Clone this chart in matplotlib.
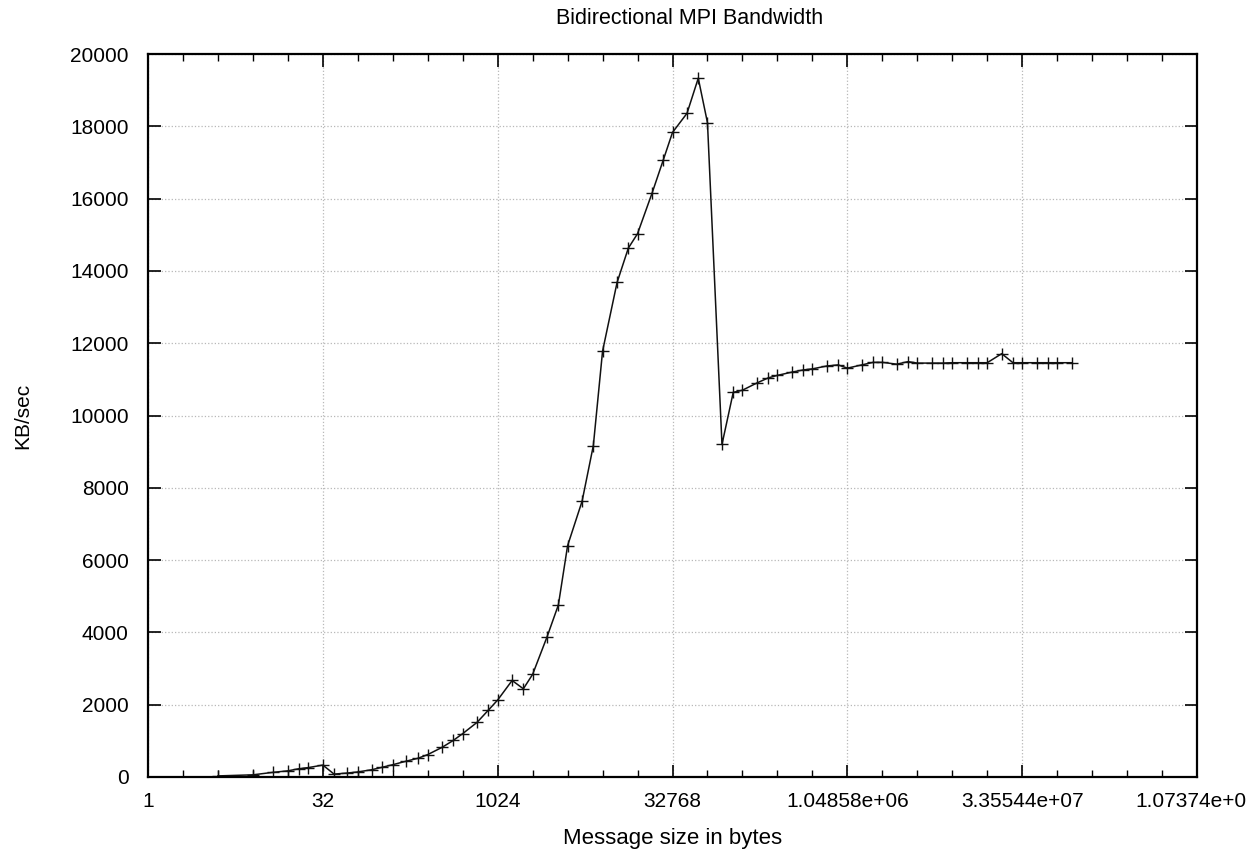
import matplotlib
matplotlib.use("Agg")
import matplotlib.pyplot as plt
from matplotlib import font_manager

# font: narrow helvetica-like if available
names = set(f.name for f in font_manager.fontManager.ttflist)
fam = ['Liberation Sans Narrow', 'Liberation Sans'] if 'Liberation Sans Narrow' in names else ['Liberation Sans']
plt.rcParams['font.family'] = fam

# message sizes (bytes) and measured bandwidth (KB/sec)
msg_size = [4, 8, 12, 16, 20, 24, 32, 40, 52, 64, 84, 104, 128, 168, 212, 256,
            340, 424, 512, 680, 852, 1024, 1364, 1704, 2048, 2728, 3412, 4096,
            5460, 6824, 8192, 10920, 13652, 16384, 21844, 27304, 32768, 43688,
            54612, 65536, 87380, 109224, 131072, 174760, 218452, 262144, 349524,
            436904, 524288, 699048, 873812, 1048576, 1398100, 1747624, 2097152,
            2796200, 3495252, 4194304, 5592404, 6990504, 8388608, 11184808,
            13981012, 16777216, 22369620, 27962024, 33554432, 44739240,
            55924052, 67108864, 89478484]
kb_sec = [30, 60, 130, 170, 230, 260, 330, 80, 110, 140, 200, 270, 340, 440,
          520, 620, 820, 1010, 1200, 1510, 1850, 2130, 2670, 2440, 2840, 3880,
          4760, 6400, 7630, 9170, 11780, 13680, 14630, 15030, 16150, 17070,
          17830, 18360, 19330, 18100, 9200, 10640, 10700, 10900, 11040, 11110,
          11200, 11260, 11290, 11370, 11400, 11310, 11400, 11470, 11470, 11420,
          11490, 11450, 11450, 11450, 11460, 11460, 11460, 11460, 11710, 11460,
          11460, 11460, 11460, 11460, 11460]

major_ticks = [2 ** k for k in range(0, 31, 5)]
minor_ticks = [2 ** k for k in range(0, 31)]
y_ticks = list(range(0, 20001, 2000))

fig = plt.figure(figsize=(12.47, 8.5), dpi=100)
ax = fig.add_axes([148 / 1247, 1 - 777 / 850, (1197 - 148) / 1247, (777 - 54) / 850])

ax.plot(msg_size, kb_sec, '-', color='#111111', lw=1.1,
        marker='+', markersize=9, markeredgewidth=1.0)

ax.set_xscale('log', base=2)
ax.set_xlim(1, 2 ** 30)
ax.set_ylim(0, 20000)
ax.set_xticks(major_ticks)
ax.set_xticklabels(['%g' % v for v in major_ticks])
ax.set_xticks(minor_ticks, minor=True)
ax.set_xticklabels([], minor=True)
ax.set_yticks(y_ticks)
ax.set_yticklabels([str(v) for v in y_ticks])

ax.grid(True, which='major', color='#b8b8b8', linestyle=':', linewidth=0.9)
ax.tick_params(which='both', direction='in', top=True, right=True, labelsize=15, colors='black')
ax.tick_params(which='major', length=9, width=1.2)
ax.tick_params(axis='x', which='major', pad=11)
ax.tick_params(axis='y', which='major', pad=14)
ax.tick_params(which='minor', length=5, width=1.0)
for s in ax.spines.values():
    s.set_linewidth(1.6)

ax.set_xlabel('Message size in bytes', fontsize=16, labelpad=12)
ax.set_ylabel('KB/sec', fontsize=15, labelpad=27)
fig.text(690 / 1247, 1 - 18 / 850, 'Bidirectional MPI Bandwidth', fontsize=15.5,
         ha='center', va='center')

fig.savefig('out.png', dpi=100)
